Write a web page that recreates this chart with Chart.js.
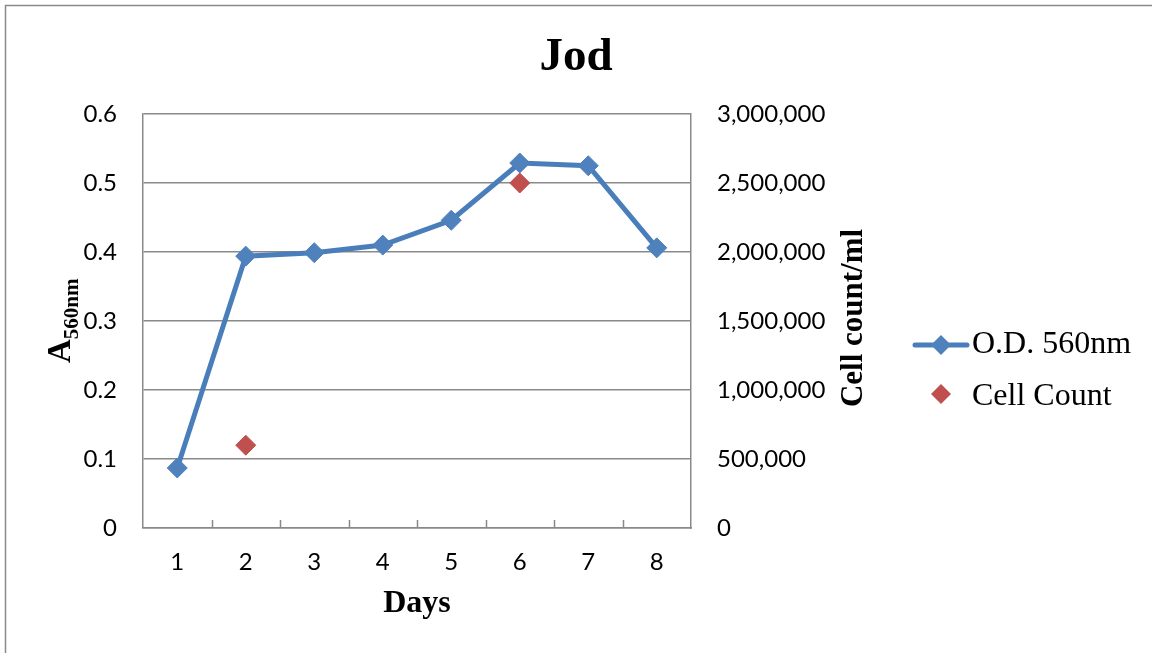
<!DOCTYPE html>
<html>
<head>
<meta charset="utf-8">
<title>Jod</title>
<script src="https://cdn.jsdelivr.net/npm/chart.js@4"></script>
<style>
  html, body { margin: 0; padding: 0; background: #ffffff; }
  #wrap { width: 1152px; height: 653px; position: relative; }
</style>
</head>
<body>
<div id="wrap"><canvas id="chart" width="1152" height="653"></canvas></div>
<script>
// Sampling days
const days = ['1', '2', '3', '4', '5', '6', '7', '8'];
// Optical density at 560 nm
const odValues = [0.087, 0.394, 0.399, 0.410, 0.446, 0.529, 0.525, 0.406];
// Cell counts per ml (measured on day 2 and day 6 only)
const cellCounts = [null, 600000, null, null, null, 2500000, null, null];
// Axis tick labels
const odTickLabels = ['0', '0.1', '0.2', '0.3', '0.4', '0.5', '0.6'];
const countTickLabels = ['0', '500,000', '1,000,000', '1,500,000', '2,000,000', '2,500,000', '3,000,000'];

const BLUE_LINE = '#4A7EBB';
const BLUE_MARK = '#4F81BD';
const RED_MARK = '#C0504D';
const GRID = '#898989';
const SERIF = '"Liberation Serif", "Times New Roman", serif';
const SANS = 'Lato, "Open Sans", sans-serif';

// Frame, inner x-axis tick marks, axis titles and legend
const decorations = {
  id: 'decorations',
  beforeDraw(chart) {
    const ctx = chart.ctx;
    ctx.save();
    ctx.fillStyle = '#ffffff';
    ctx.fillRect(0, 0, chart.width, chart.height);
    ctx.strokeStyle = '#8a8a8a';
    ctx.lineWidth = 1.5;
    ctx.beginPath();
    ctx.moveTo(5.5, chart.height + 5);
    ctx.lineTo(5.5, 5.5);
    ctx.lineTo(chart.width + 5, 5.5);
    ctx.stroke();
    ctx.restore();
  },
  afterDraw(chart) {
    const ctx = chart.ctx;
    const area = chart.chartArea;
    ctx.save();

    // tick marks between categories, pointing into the plot
    ctx.strokeStyle = GRID;
    ctx.lineWidth = 1.5;
    const n = days.length;
    const step = (area.right - area.left) / n;
    ctx.beginPath();
    for (let i = 1; i < n; i++) {
      const px = Math.round(area.left + i * step) + 0.5;
      ctx.moveTo(px, area.bottom);
      ctx.lineTo(px, area.bottom - 8);
    }
    ctx.stroke();

    ctx.fillStyle = '#000000';
    ctx.textAlign = 'left';
    ctx.textBaseline = 'alphabetic';

    // left axis title: A with subscript 560nm
    ctx.save();
    ctx.translate(70, 363);
    ctx.rotate(-Math.PI / 2);
    ctx.font = 'bold 33px ' + SERIF;
    ctx.fillText('A', 0, 0);
    const aw = ctx.measureText('A').width;
    ctx.font = 'bold 21px ' + SERIF;
    ctx.fillText('560nm', aw, 8);
    ctx.restore();

    // right axis title
    ctx.save();
    ctx.translate(862, 318);
    ctx.rotate(-Math.PI / 2);
    ctx.font = 'bold 31px ' + SERIF;
    ctx.textAlign = 'center';
    ctx.fillText('Cell count/ml', 0, 0);
    ctx.restore();

    // legend
    const ds = chart.data.datasets;
    const rows = [345, 394];
    const baselines = [353, 405];
    ctx.font = '32px ' + SERIF;
    ds.forEach((d, i) => {
      const cy = rows[i];
      if (d.showLine !== false) {
        ctx.strokeStyle = d.borderColor;
        ctx.lineWidth = d.borderWidth;
        ctx.lineCap = 'round';
        ctx.beginPath();
        ctx.moveTo(915, cy);
        ctx.lineTo(967, cy);
        ctx.stroke();
      }
      ctx.fillStyle = d.pointBackgroundColor;
      ctx.beginPath();
      ctx.moveTo(941, cy - 10);
      ctx.lineTo(951, cy);
      ctx.lineTo(941, cy + 10);
      ctx.lineTo(931, cy);
      ctx.closePath();
      ctx.fill();
      ctx.fillStyle = '#000000';
      ctx.fillText(d.label, 972, baselines[i]);
    });

    ctx.restore();
  }
};

new Chart(document.getElementById('chart'), {
  type: 'line',
  data: {
    labels: days,
    datasets: [
      {
        label: 'O.D. 560nm',
        data: odValues,
        yAxisID: 'y',
        borderColor: BLUE_LINE,
        borderWidth: 5,
        backgroundColor: BLUE_MARK,
        pointBackgroundColor: BLUE_MARK,
        pointBorderColor: BLUE_MARK,
        pointBorderWidth: 1,
        pointStyle: 'rectRot',
        pointRadius: 10,
        tension: 0,
        fill: false
      },
      {
        label: 'Cell Count',
        data: cellCounts,
        yAxisID: 'y2',
        showLine: false,
        borderColor: RED_MARK,
        backgroundColor: RED_MARK,
        pointBackgroundColor: RED_MARK,
        pointBorderColor: RED_MARK,
        pointBorderWidth: 1,
        pointStyle: 'rectRot',
        pointRadius: 10
      }
    ]
  },
  plugins: [decorations],
  options: {
    responsive: false,
    animation: false,
    devicePixelRatio: 1,
    layout: { padding: 0 },
    plugins: {
      legend: { display: false },
      tooltip: { enabled: false },
      title: {
        display: true,
        text: 'Jod',
        color: '#000000',
        font: { family: SERIF, size: 47, weight: 'bold', lineHeight: 1.2 },
        padding: { top: 30, bottom: 27.6 }
      }
    },
    scales: {
      x: {
        type: 'category',
        offset: true,
        grid: { display: false, drawTicks: false },
        border: { display: true, color: GRID, width: 1.5 },
        ticks: {
          color: '#000000',
          padding: 20,
          maxRotation: 0,
          font: { family: SANS, size: 24 }
        },
        title: {
          display: true,
          text: 'Days',
          color: '#000000',
          font: { family: SERIF, size: 32, weight: 'bold', lineHeight: 1.2 },
          padding: { top: 0, bottom: 30 }
        },
        afterFit(scale) { scale.height = 125; }
      },
      y: {
        position: 'left',
        min: 0,
        max: 0.6,
        grid: { color: GRID, lineWidth: 1.5, drawTicks: false },
        border: { display: true, color: GRID, width: 1.5 },
        ticks: {
          stepSize: 0.1,
          color: '#000000',
          padding: 26,
          font: { family: SANS, size: 24 },
          callback: (v, i) => odTickLabels[i]
        },
        afterFit(scale) { scale.width = 143; }
      },
      y2: {
        position: 'right',
        min: 0,
        max: 3000000,
        grid: { display: false, drawTicks: false },
        border: { display: true, color: GRID, width: 1.5 },
        ticks: {
          stepSize: 500000,
          color: '#000000',
          padding: 26,
          font: { family: SANS, size: 24 },
          callback: (v, i) => countTickLabels[i]
        },
        afterFit(scale) { scale.width = 461; }
      }
    }
  }
});
</script>
</body>
</html>
